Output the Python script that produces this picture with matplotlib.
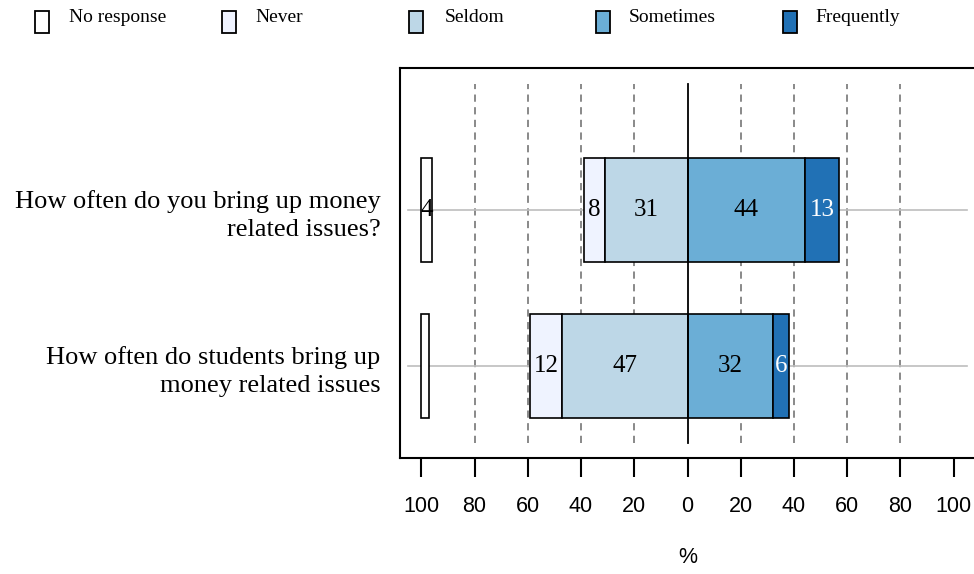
import numpy as np
import matplotlib.pyplot as plt
from matplotlib.patches import Rectangle

questions = ['How often do you bring up money\nrelated issues?',
             'How often do students bring up\nmoney related issues']
levels = ['No response', 'Never', 'Seldom', 'Sometimes', 'Frequently']
no_response = [4, 3]
never = [8, 12]
seldom = [31, 47]
sometimes = [44, 32]
frequently = [13, 6]

colors = ['white', '#EFF3FF', '#BDD7E7', '#6BAED6', '#2171B5']
serif = 'Liberation Serif'
sans = 'Liberation Sans'

fig = plt.figure(figsize=(9.74, 5.74), dpi=100)
ax = fig.add_axes([400 / 974, 1 - 458 / 574, 575 / 974, 390 / 574])

ypos = [2, 1]
h = 0.67
ax.set_xlim(-108, 108)
ax.set_ylim(0.41, 2.91)

# grid
for g in [-80, -60, -40, -20, 20, 40, 60, 80]:
    ax.plot([g, g], [0.506, 2.81], color='#808080', lw=1.3, ls=(0, (4, 3)), zorder=1)
for y in ypos:
    ax.plot([-105, 105], [y, y], color='#BEBEBE', lw=1.2, zorder=1)

fs = 18
for i, y in enumerate(ypos):
    ax.barh(y, -never[i], left=-seldom[i], height=h, color=colors[1], edgecolor='black', lw=1.2, zorder=2)
    ax.barh(y, -seldom[i], left=0, height=h, color=colors[2], edgecolor='black', lw=1.2, zorder=2)
    ax.barh(y, sometimes[i], left=0, height=h, color=colors[3], edgecolor='black', lw=1.2, zorder=2)
    ax.barh(y, frequently[i], left=sometimes[i], height=h, color=colors[4], edgecolor='black', lw=1.2, zorder=2)
    ax.barh(y, no_response[i], left=-100, height=h, color=colors[0], edgecolor='black', lw=1.2, zorder=2)

    ax.text(-seldom[i] - never[i] / 2, y, str(never[i]), ha='center', va='center', family=serif, fontsize=fs, zorder=3)
    ax.text(-seldom[i] / 2, y, str(seldom[i]), ha='center', va='center', family=serif, fontsize=fs, zorder=3)
    ax.text(sometimes[i] / 2, y, str(sometimes[i]), ha='center', va='center', family=serif, fontsize=fs, zorder=3)
    ax.text(sometimes[i] + frequently[i] / 2, y, str(frequently[i]), ha='center', va='center',
            family=serif, fontsize=fs, color='white', zorder=3)
    if no_response[i] >= 4:
        ax.text(-100 + no_response[i] / 2, y, str(no_response[i]), ha='center', va='center',
                family=serif, fontsize=fs, zorder=3)

ax.plot([0, 0], [0.506, 2.81], color='black', lw=1.3, zorder=4)

ax.set_xticks(np.arange(-100, 101, 20))
ax.set_xticklabels([str(abs(v)) for v in range(-100, 101, 20)], family=sans, fontsize=15.5)
ax.tick_params(axis='x', direction='out', length=14, width=1.5, pad=13)
ax.set_yticks(ypos)
ax.set_yticklabels(questions, family=serif, fontsize=19, ha='right', linespacing=1.35)
ax.tick_params(axis='y', length=0, pad=14)
for s in ax.spines.values():
    s.set_linewidth(1.5)
ax.set_xlabel('%', family=sans, fontsize=15.5, labelpad=22)

# legend
box_x = [35, 222, 409, 596, 783]
txt_x = [69, 255, 445, 629, 815]
for lab, c, bx, tx in zip(levels, colors, box_x, txt_x):
    fig.patches.append(Rectangle((bx / 974, 1 - 33 / 574), 14 / 974, 22 / 574, transform=fig.transFigure,
                                 facecolor=c, edgecolor='black', lw=1.3))
    fig.text(tx / 974, 1 - 17 / 574, lab, family=serif, fontsize=14, va='center', ha='left')

fig.savefig('out.png', dpi=100)
